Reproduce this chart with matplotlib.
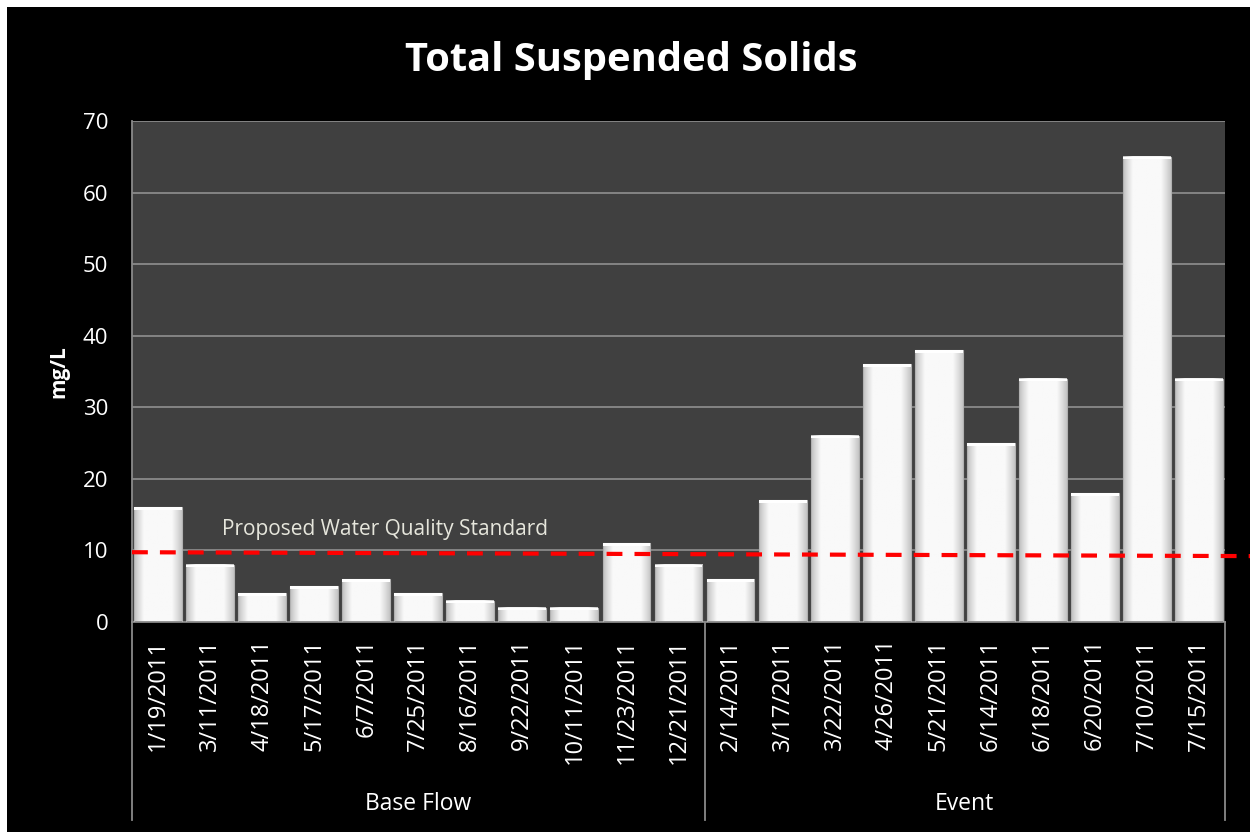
import numpy as np
import matplotlib
matplotlib.use("Agg")
import matplotlib.pyplot as plt
import matplotlib.patches as patches
import matplotlib.transforms as mtransforms

# --- DATA ---
dates = ['1/19/2011', '3/11/2011', '4/18/2011', '5/17/2011', '6/7/2011', '7/25/2011',
         '8/16/2011', '9/22/2011', '10/11/2011', '11/23/2011', '12/21/2011',
         '2/14/2011', '3/17/2011', '3/22/2011', '4/26/2011', '5/21/2011', '6/14/2011',
         '6/18/2011', '6/20/2011', '7/10/2011', '7/15/2011']
tss = [16, 8, 4, 5, 6, 4, 3, 2, 2, 11, 8,
       6, 17, 26, 36, 38, 25, 34, 18, 65, 34]
groups = ['Base Flow', 'Event']
group_sizes = [11, 10]
standard_ends = [9.75, 9.2]   # red dashed line, left end / right end
y_ticks = [0, 10, 20, 30, 40, 50, 60, 70]

FONT = 'Open Sans'
plt.rcParams['font.family'] = [FONT, 'DejaVu Sans']

fig = plt.figure(figsize=(12.5, 8.32), dpi=100, facecolor='white')
# black slide background (thin white margin top/left as in the original)
fig.patches.append(patches.Rectangle((7 / 1250, 0), 1, 1 - 7 / 832, transform=fig.transFigure,
                                     facecolor='black', edgecolor='none', zorder=-10))

ax = fig.add_axes([132 / 1250, (832 - 622) / 832, (1225 - 132) / 1250, 501 / 832])
ax.set_facecolor('#404040')

n = len(tss)
x = np.arange(n)

# gridlines
ax.set_yticks(y_ticks)
ax.yaxis.grid(True, color='#8a8a8a', linewidth=1.3)
ax.set_axisbelow(True)

# bars with a soft horizontal shading
bar_w = 0.92
prof = np.concatenate([np.linspace(0.76, 0.96, 10), np.full(30, 0.975), np.linspace(0.96, 0.78, 10)])
shade = np.tile(prof, (2, 1))
for xi, v in zip(x, tss):
    ax.imshow(shade, cmap='gray', vmin=0, vmax=1, aspect='auto', interpolation='bilinear',
              extent=(xi - bar_w / 2, xi + bar_w / 2, 0, v), zorder=2)
    ax.add_patch(patches.Rectangle((xi - bar_w / 2, 0), bar_w, v, facecolor='none',
                                   edgecolor='#b0b0b0', linewidth=0.8, zorder=3))
    # lighter top band
    ax.add_patch(patches.Rectangle((xi - bar_w / 2, v - 0.35), bar_w, 0.35, facecolor='#ffffff',
                                   edgecolor='none', zorder=3))

ax.set_xlim(-0.5, n - 0.5)
ax.set_ylim(0, 70)

# proposed standard
ax.plot([-0.5, n + 0.3], standard_ends, color='#ff0000', linewidth=3,
        linestyle=(0, (3.8, 2.9)), clip_on=False, zorder=4)
ax.text(1.22, 12.9, 'Proposed Water Quality Standard', color='#e6e6dc', fontsize=15,
        ha='left', va='center', zorder=5)

# axes styling
for s in ['top', 'right']:
    ax.spines[s].set_visible(False)
ax.spines['left'].set_color('#8a8a8a')
ax.spines['left'].set_linewidth(1.3)
ax.spines['bottom'].set_color('#8a8a8a')
ax.spines['bottom'].set_linewidth(1.3)

ax.tick_params(axis='y', length=0, pad=17, labelsize=16, labelcolor='white')
ax.set_xticks(x)
ax.set_xticklabels(dates, rotation=90, va='top', ha='center')
ax.tick_params(axis='x', length=0, pad=12, labelsize=17, labelcolor='white')

ax.set_ylabel('mg/L', color='white', fontsize=15, fontweight='bold', labelpad=10)

# second-level category axis
trans = mtransforms.blended_transform_factory(ax.transData, ax.transAxes)
edges = np.concatenate([[0], np.cumsum(group_sizes)]) - 0.5
for e in edges:
    ax.plot([e, e], [0, -0.395], transform=trans, color='#8a8a8a', linewidth=1.3, clip_on=False)
for g, a, b in zip(groups, edges[:-1], edges[1:]):
    ax.text((a + b) / 2, -0.364, g, transform=trans, color='white', fontsize=16.5,
            ha='center', va='center')

fig.text(0.505, 0.927, 'Total Suspended Solids', color='white', fontsize=28.7,
         fontweight='bold', ha='center', va='center')

fig.savefig('out.png', dpi=100, facecolor=fig.get_facecolor())
